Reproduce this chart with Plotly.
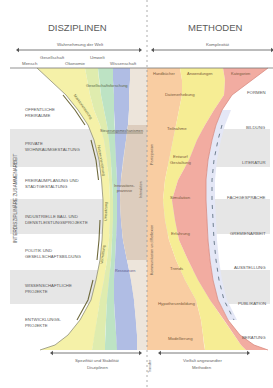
import plotly.graph_objects as go

# ---------------- data ----------------
Y = [68, 80, 95, 110, 125, 140, 160, 180, 200, 220, 240, 260, 280, 300, 320, 335, 345, 350]
# left (Disziplinen) hourglass edge and vertical colour-band boundaries
left_edge  = [37, 50, 66, 78, 88, 94, 99, 101.5, 103, 103, 102, 100, 96, 91, 80, 68, 55, 40]
b_yellow   = [85, 87, 90, 94, 100, 104, 107, 109, 110, 110, 109, 107, 104, 100, 97, 95, 93, 92]
b_lime     = [98, 99, 101, 104, 107, 109, 111, 112, 113, 113, 112, 111, 109, 107, 106, 105, 105, 105]
b_mint     = [113, 113, 114, 114, 115, 115, 116, 117, 117, 117, 116, 115, 114, 114, 115, 116, 117, 117]
b_blue     = [130, 130, 129, 129, 128, 126, 123, 121, 120, 121, 123, 127, 131, 134, 136, 137, 137, 137]
# right (Methoden) hourglass edge and colour-band boundaries
right_edge = [268, 252, 232, 222, 216, 212, 208, 206, 206, 207, 208, 210, 213, 218, 228, 240, 254, 268]
b_peach    = [180, 182, 182, 179, 176, 173, 169, 165, 163, 165, 169, 176, 185, 196, 201, 203, 204, 205]
b_yel_r    = [223, 225, 224, 214, 205, 197, 189, 178, 172, 175, 179, 188, 198, 210, 224, 234, 241, 246]

center_x = 147
gray_rows = [(129, 167), (199, 234), (270, 304)]

left_labels = ["ÖFFENTLICHE<br>FREIRÄUME", "PRIVATE<br>WOHNRAUMGESTALTUNG",
               "FREIRAUMPLANUNG UND<br>STADTGESTALTUNG", "INDUSTRIELLE BAU- UND<br>DIENSTLEISTUNGSPROJEKTE",
               "POLITIK UND<br>GESELLSCHAFTSBILDUNG", "WISSENSCHAFTLICHE<br>PROJEKTE",
               "ENTWICKLUNGS-<br>PROJEKTE"]
left_label_y = [112, 146, 183, 219, 253, 288, 322]

right_labels = ["FORMEN", "BILDUNG", "LITERATUR", "FACHGESPRÄCHE", "GREMIENARBEIT",
                "AUSSTELLUNG", "PUBLIKATION", "BERATUNG"]
right_label_y = [92, 127, 162, 197, 233, 267, 303, 337]

method_labels = ["Datenerhebung", "Teilnahme", "Entwurf<br>Gestaltung", "Simulation",
                 "Erfahrung", "Trends", "Hypothesenbildung", "Modellierung"]
method_label_x = [180, 177, 180, 180, 180, 176, 176, 180]
method_label_y = [94, 128, 159, 197, 233, 268, 303, 338]

top_method_labels = ["Handbücher", "Anwendungen", "Kategorien"]
top_method_x = [164, 200, 240]

domain_row1 = ["Gesellschaft", "Umwelt"]
domain_row1_x = [52, 97]
domain_row2 = ["Mensch", "Ökonomie", "Wissenschaft"]
domain_row2_x = [30, 75, 123]

# ---------------- figure ----------------
fig = go.Figure()
FONT = "Liberation Sans"


def band(xa, xb, ys, color, line=None):
    xs = list(xa) + list(xb)[::-1] + [xa[0]]
    yy = list(ys) + list(ys)[::-1] + [ys[0]]
    fig.add_trace(go.Scatter(x=xs, y=yy, fill="toself", fillcolor=color, mode="lines",
                             line=dict(width=0 if line is None else 0.6, color=line or color),
                             hoverinfo="skip"))


# gray rows (behind everything)
for (y0, y1) in gray_rows:
    fig.add_shape(type="rect", x0=10, x1=270, y0=y0, y1=y1, fillcolor="#e6e6e6",
                  line=dict(width=0), layer="below")

# left colour bands
band(left_edge, b_yellow, Y, "#f5f1a8")
band(b_yellow, b_lime, Y, "#dfecae")
band(b_lime, b_mint, Y, "#bde3c4")
band(b_mint, b_blue, Y, "#b0bde4")
band(b_blue, [center_x] * len(Y), Y, "#ede5db")
# tan middle zone
i0, i1 = 4, 12
band(b_blue[i0:i1], [center_x] * (i1 - i0), Y[i0:i1], "#ddcdbe")

# right colour bands
band([center_x] * len(Y), b_peach, Y, "#f9cda2")
band(b_peach, b_yel_r, Y, "#f6ed94")
band(b_yel_r, right_edge, Y, "#f2aca1")
# lavender fringe inside right curve
j0, j1 = 3, 15
band(right_edge[j0:j1], [x + 9 for x in right_edge[j0:j1]], Y[j0:j1], "#e4e7f6")

# curve outlines
fig.add_trace(go.Scatter(x=left_edge, y=Y, mode="lines", line=dict(color="#8f8f7a", width=0.8),
                         hoverinfo="skip"))
fig.add_trace(go.Scatter(x=right_edge, y=Y, mode="lines", line=dict(color="#d98a80", width=0.8),
                         hoverinfo="skip"))
# darker segments along left curve
for a, b in [(2, 5), (5, 8), (9, 12), (12, 15)]:
    fig.add_trace(go.Scatter(x=[x - 3 for x in left_edge[a:b]], y=Y[a:b], mode="lines",
                             line=dict(color="#6f6a3c", width=1.1), hoverinfo="skip"))
# dashed segments along right curve
fig.add_trace(go.Scatter(x=[x + 6 for x in right_edge[4:15]], y=Y[4:15], mode="lines",
                         line=dict(color="#6f7f8f", width=1, dash="4px,5px"), hoverinfo="skip"))

# horizontal rule under the headers
fig.add_trace(go.Scatter(x=[10, 273], y=[68, 68], mode="lines", line=dict(color="#777", width=0.8),
                         hoverinfo="skip"))
# line across the middle of the tan zone
fig.add_trace(go.Scatter(x=[b_lime[4], center_x - 4], y=[133, 133], mode="lines",
                         line=dict(color="#6a6a50", width=0.6), hoverinfo="skip"))

# centre dashed line
fig.add_trace(go.Scatter(x=[center_x, center_x], y=[0, 388], mode="lines",
                         line=dict(color="#999", width=0.8, dash="2px,3px"), hoverinfo="skip"))

# arrows
for (xa, xb, yy) in [(18, 140, 50), (153, 272, 50), (52, 140, 353), (160, 248, 353)]:
    fig.add_trace(go.Scatter(x=[xa, xb], y=[yy, yy], mode="lines+markers",
                             line=dict(color="#555", width=0.8),
                             marker=dict(symbol=["triangle-left", "triangle-right"], size=4, color="#555"),
                             hoverinfo="skip"))


def txt(x, y, s, size=4.4, color="#666", anchor="center", angle=0):
    fig.add_annotation(x=x, y=y, text=s, showarrow=False,
                       xanchor=anchor, yanchor="middle", textangle=angle,
                       font=dict(family=FONT, size=size, color=color),
                       align="left" if anchor == "left" else "center")


# titles
txt(77, 27, "DISZIPLINEN", size=9.5, color="#5a5a5a")
txt(215, 27, "METHODEN", size=9.5, color="#5a5a5a")
txt(80, 44, "Wahrnehmung der Welt", size=4.4)
txt(218, 44, "Komplexität", size=4.4)
for s, x in zip(domain_row1, domain_row1_x):
    txt(x, 57, s)
for s, x in zip(domain_row2, domain_row2_x):
    txt(x, 63, s)

# left row labels
for s, y in zip(left_labels, left_label_y):
    txt(23, y, s, size=4.3, color="#555", anchor="left")
# right row labels
for s, y in zip(right_labels, right_label_y):
    txt(268, y, s, size=4.3, color="#555", anchor="right")
# method labels
for s, x, y in zip(method_labels, method_label_x, method_label_y):
    txt(x, y, s, size=4.3, color="#7a5a3a")
for s, x in zip(top_method_labels, top_method_x):
    txt(x, 73, s, size=4.0, color="#7a5a3a")

# labels inside left colour bands
txt(107, 85, "Gesellschaftsforschung", size=4.0, color="#5a6a4a")
txt(121, 131, "Steuerungsmechanismen", size=3.8, color="#5a5a4a")
txt(124, 188, "Innovations-<br>prozesse", size=3.8, color="#6a5a4a")
txt(125, 271, "Ressourcen", size=3.8, color="#5a5a8a")

# rotated labels along left curve
txt(83, 107, "Marktorientierung", size=3.8, color="#6b6b3a", angle=55)
txt(101, 160, "Nutzerorientierung", size=3.8, color="#6b6b3a", angle=80)
txt(106, 212, "Umsetzung", size=3.8, color="#6b6b3a", angle=-88)
txt(103, 255, "Vermittlung", size=3.8, color="#6b6b3a", angle=-82)

# vertical texts
txt(15, 198, "INTERDISZIPLINÄRE ZUSAMMENARBEIT", size=4.6, color="#555", angle=-90)
txt(152, 155, "Partizipation", size=3.8, color="#6a5a4a", angle=-90)
txt(152, 250, "Kommunikation und Reflexion", size=3.8, color="#6a5a4a", angle=-90)
txt(141, 190, "Interaktion", size=3.6, color="#6a5a4a", angle=-90)
txt(150, 366, "Transfer", size=3.6, color="#666", angle=-90)

# bottom captions
txt(97, 360, "Spezifität und Stabilität", size=4.3)
txt(97, 367, "Disziplinen", size=4.3)
txt(202, 360, "Vielfalt angewandter", size=4.3)
txt(202, 367, "Methoden", size=4.3)

fig.update_layout(
    width=273, height=388, margin=dict(l=0, r=0, t=0, b=0),
    paper_bgcolor="white", plot_bgcolor="white", showlegend=False,
    xaxis=dict(range=[0, 273], visible=False, fixedrange=True),
    yaxis=dict(range=[388, 0], visible=False, fixedrange=True),
)

fig.write_html("out.html", config={"displayModeBar": False},
               post_script="document.body.style.margin='0';document.body.style.overflow='hidden';")
